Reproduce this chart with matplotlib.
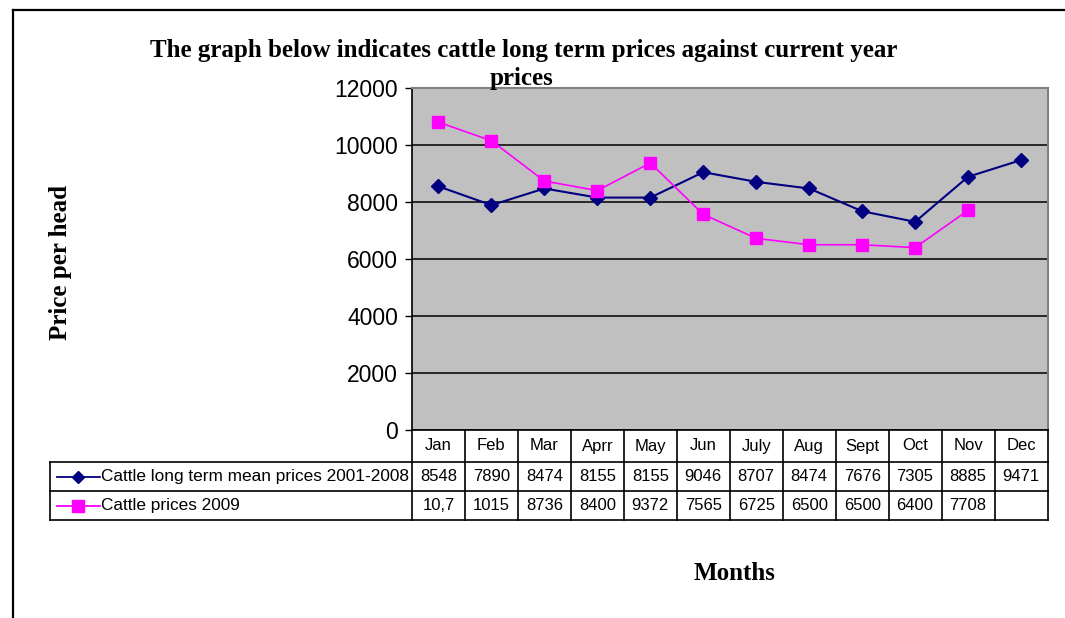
import numpy as np
import matplotlib
matplotlib.use("Agg")
import matplotlib.pyplot as plt
from matplotlib.lines import Line2D
from matplotlib.transforms import blended_transform_factory

# ---- data ----
months = ["Jan", "Feb", "Mar", "Aprr", "May", "Jun", "July", "Aug",
          "Sept", "Oct", "Nov", "Dec"]
long_term = [8548, 7890, 8474, 8155, 8155, 9046, 8707, 8474, 7676, 7305, 8885, 9471]
prices_2009 = [10800, 10150, 8736, 8400, 9372, 7565, 6725, 6500, 6500, 6400, 7708, np.nan]
# table text as printed in the source (first two cells were truncated there)
long_term_txt = [str(v) for v in long_term]
prices_2009_txt = ["10,7", "1015", "8736", "8400", "9372", "7565", "6725",
                   "6500", "6500", "6400", "7708", ""]
series_names = ["Cattle long term mean prices 2001-2008", "Cattle prices 2009"]

W, H = 1065, 618
NAVY, MAGENTA = "#000080", "#FF00FF"
SERIF = ["Liberation Serif", "DejaVu Serif"]
SANS = ["Liberation Sans", "DejaVu Sans"]


def fx(px):
    return px / W


def fy(py):
    return 1 - py / H


fig = plt.figure(figsize=(W / 100, H / 100), dpi=100)

# outer chart frame (only left and top visible in the crop)
fig.add_artist(Line2D([fx(13), fx(13)], [fy(10), 0], color="black", lw=1.6))
fig.add_artist(Line2D([fx(13), 1], [fy(10), fy(10)], color="black", lw=1.6))

ax_l, ax_r, ax_t, ax_b = 412, 1047.5, 88, 430
ax = fig.add_axes([fx(ax_l), fy(ax_b), fx(ax_r - ax_l), (ax_b - ax_t) / H])
ax.set_facecolor("#C0C0C0")

x = np.arange(len(months))
ax.plot(x, long_term, color=NAVY, lw=1.5, marker="D", ms=7,
        mfc=NAVY, mec=NAVY, zorder=3)
ax.plot(x, prices_2009, color=MAGENTA, lw=1.2, marker="s", ms=9,
        mfc=MAGENTA, mec=MAGENTA, zorder=3)

ax.set_xlim(-0.5, len(months) - 0.5)
ax.set_ylim(0, 12000)
ax.set_yticks(range(0, 12001, 2000))
ax.set_xticks([])
ax.yaxis.grid(True, color="black", lw=1.1)
ax.set_axisbelow(True)
ax.tick_params(axis="y", length=5, width=1, direction="out", pad=5)
for lab in ax.get_yticklabels():
    lab.set_fontfamily(SANS)
    lab.set_fontsize(16.5)
for side in ("top", "right"):
    ax.spines[side].set_color("#808080")
    ax.spines[side].set_linewidth(1.5)
for side in ("left", "bottom"):
    ax.spines[side].set_color("black")
    ax.spines[side].set_linewidth(1.2)

# ---- data table under the plot ----
tr = blended_transform_factory(ax.transData, fig.transFigure)
rows_py = [430, 462, 491, 520]
edge_kw = dict(color="black", lw=1.2, clip_on=False)

for i in range(len(months) + 1):
    xe = i - 0.5
    fig.add_artist(Line2D([xe, xe], [fy(rows_py[0]), fy(rows_py[-1])],
                          transform=tr, **edge_kw))
for py in rows_py[1:]:
    fig.add_artist(Line2D([fx(50), fx(ax_r)], [fy(py), fy(py)], **edge_kw))
fig.add_artist(Line2D([fx(50), fx(50)], [fy(rows_py[1]), fy(rows_py[-1])], **edge_kw))

txt_kw = dict(transform=tr, ha="center", va="center", fontsize=12, family=SANS)
for i, m in enumerate(months):
    fig.text(i, fy((rows_py[0] + rows_py[1]) / 2), m, **txt_kw)
    fig.text(i, fy((rows_py[1] + rows_py[2]) / 2), long_term_txt[i], **txt_kw)
    fig.text(i, fy((rows_py[2] + rows_py[3]) / 2), prices_2009_txt[i], **txt_kw)

# legend keys in the first column
for r, (name, col, mk, ms) in enumerate(zip(series_names, [NAVY, MAGENTA],
                                           ["D", "s"], [6, 9])):
    yc = fy((rows_py[r + 1] + rows_py[r + 2]) / 2)
    fig.add_artist(Line2D([fx(57), fx(100)], [yc, yc], color=col, lw=1.3))
    fig.add_artist(Line2D([fx(78)], [yc], color=col, marker=mk, ms=ms,
                          mfc=col, mec=col, lw=0))
    fig.text(fx(101), yc, name, ha="left", va="center", fontsize=12.4, family=SANS)

# ---- titles ----
fig.text(fx(524), fy(51), "The graph below indicates cattle long term prices against current year",
         ha="center", va="center", fontsize=18, fontweight="bold", family=SERIF)
fig.text(fx(522), fy(78), "prices", ha="center", va="center",
         fontsize=18, fontweight="bold", family=SERIF)
fig.text(fx(60), fy(263), "Price per head", ha="center", va="center", rotation=90,
         fontsize=18, fontweight="bold", family=SERIF)
fig.text(fx(735), fy(573), "Months", ha="center", va="center",
         fontsize=18, fontweight="bold", family=SERIF)

fig.savefig("out.png", dpi=100)
